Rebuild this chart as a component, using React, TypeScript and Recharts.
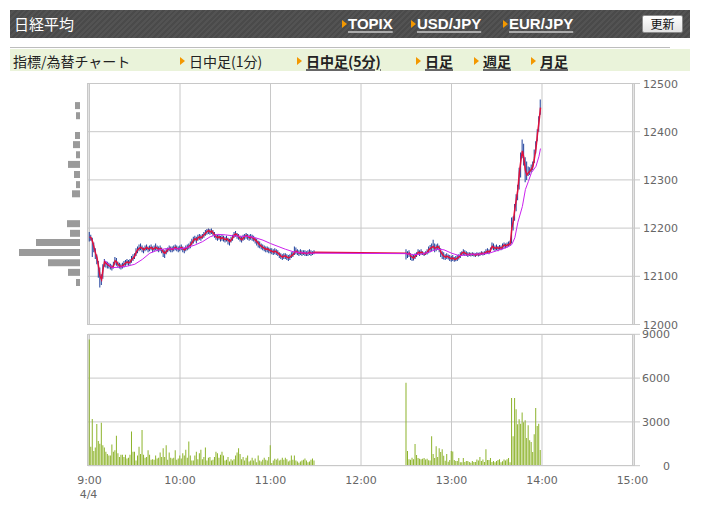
import React from 'react';
import { ComposedChart, BarChart, Bar, Line, XAxis, YAxis, CartesianGrid } from 'recharts';

// ---------- data ----------
const MORNING_START = 0; // minutes after 9:00
const AFTERNOON_START = 210; // 12:30

const morningClose = [
  12182, 12180, 12172, 12160, 12148, 12138, 12120, 12100, 12093, 12115,
  12130, 12127, 12124, 12122, 12120, 12118, 12122, 12132, 12130, 12124,
  12122, 12120, 12122, 12125, 12128, 12130, 12128, 12130, 12135, 12138,
  12142, 12150, 12155, 12158, 12160, 12158, 12155, 12158, 12160, 12157,
  12158, 12160, 12156, 12158, 12160, 12158, 12156, 12158, 12155, 12150,
  12148, 12152, 12155, 12158, 12157, 12156, 12158, 12160, 12158, 12157,
  12158, 12160, 12157, 12155, 12158, 12160, 12162, 12165, 12170, 12175,
  12178, 12175, 12180, 12182, 12180, 12183, 12186, 12190, 12193, 12195,
  12192, 12194, 12190, 12186, 12182, 12180, 12182, 12178, 12180, 12178,
  12176, 12178, 12175, 12172, 12176, 12180, 12186, 12188, 12185, 12182,
  12178, 12176, 12180, 12182, 12185, 12183, 12180, 12182, 12180, 12178,
  12175, 12172, 12168, 12165, 12162, 12160, 12158, 12156, 12157, 12155,
  12153, 12152, 12150, 12152, 12150, 12148, 12145, 12142, 12140, 12142,
  12142, 12140, 12138, 12140, 12143, 12145, 12150, 12152, 12150, 12148,
  12150, 12148, 12149, 12148, 12147, 12148, 12150, 12148, 12148, 12150,
];
const morningHigh = [
  12192, 12186, 12180, 12170, 12158, 12145, 12132, 12118, 12104, 12125,
  12136, 12132, 12130, 12128, 12126, 12124, 12130, 12140, 12138, 12130,
  12128, 12126, 12128, 12132, 12134, 12136, 12134, 12136, 12142, 12146,
  12148, 12158, 12162, 12166, 12168, 12164, 12160, 12164, 12166, 12162,
  12164, 12166, 12162, 12164, 12168, 12164, 12162, 12164, 12160, 12156,
  12154, 12158, 12160, 12164, 12162, 12162, 12164, 12166, 12164, 12162,
  12164, 12166, 12162, 12160, 12164, 12166, 12168, 12172, 12178, 12182,
  12184, 12182, 12186, 12188, 12186, 12188, 12192, 12196, 12198, 12199,
  12198, 12199, 12196, 12192, 12188, 12186, 12188, 12184, 12186, 12184,
  12182, 12184, 12180, 12178, 12182, 12186, 12192, 12194, 12190, 12188,
  12184, 12182, 12186, 12188, 12190, 12188, 12186, 12188, 12186, 12184,
  12180, 12178, 12174, 12172, 12168, 12166, 12164, 12162, 12162, 12160,
  12158, 12158, 12156, 12158, 12156, 12154, 12150, 12148, 12146, 12148,
  12148, 12146, 12144, 12146, 12150, 12152, 12162, 12160, 12156, 12154,
  12156, 12154, 12154, 12154, 12152, 12154, 12156, 12154, 12152, 12154,
];
const morningLow = [
  12172, 12174, 12140, 12150, 12136, 12125, 12097, 12077, 12082, 12095,
  12120, 12118, 12116, 12116, 12114, 12112, 12116, 12124, 12122, 12118,
  12116, 12114, 12116, 12118, 12122, 12124, 12122, 12124, 12128, 12132,
  12136, 12142, 12148, 12152, 12154, 12150, 12148, 12152, 12154, 12150,
  12152, 12154, 12150, 12152, 12154, 12152, 12150, 12152, 12148, 12140,
  12138, 12146, 12150, 12152, 12150, 12150, 12152, 12154, 12152, 12150,
  12152, 12154, 12150, 12148, 12152, 12154, 12156, 12158, 12164, 12168,
  12172, 12168, 12174, 12176, 12174, 12178, 12180, 12184, 12186, 12188,
  12186, 12188, 12184, 12180, 12176, 12174, 12176, 12172, 12174, 12172,
  12170, 12172, 12166, 12164, 12170, 12174, 12180, 12182, 12178, 12176,
  12172, 12170, 12174, 12176, 12178, 12176, 12174, 12176, 12174, 12172,
  12168, 12164, 12160, 12158, 12156, 12154, 12152, 12150, 12150, 12148,
  12148, 12146, 12144, 12146, 12144, 12142, 12138, 12136, 12134, 12136,
  12136, 12134, 12132, 12134, 12138, 12140, 12144, 12146, 12144, 12142,
  12144, 12142, 12144, 12142, 12142, 12142, 12144, 12142, 12144, 12146,
];
const afternoonClose = [
  12148, 12146, 12148, 12142, 12140, 12138, 12142, 12145, 12150, 12148,
  12150, 12148, 12146, 12148, 12150, 12155, 12158, 12160, 12162, 12158,
  12160, 12162, 12158, 12150, 12145, 12142, 12140, 12142, 12140, 12138,
  12136, 12138, 12135, 12136, 12138, 12140, 12144, 12148, 12150, 12148,
  12146, 12145, 12146, 12145, 12146, 12145, 12144, 12146, 12145, 12146,
  12148, 12147, 12148, 12150, 12152, 12150, 12155, 12162, 12160, 12158,
  12160, 12158, 12160, 12158, 12162, 12165, 12163, 12165, 12166, 12168,
  12200, 12215, 12240, 12260, 12280, 12315, 12340, 12360, 12345, 12320,
  12310, 12315, 12318, 12322, 12328, 12345, 12365, 12395, 12420, 12450,
];
const afternoonHigh = [
  12156, 12152, 12154, 12148, 12146, 12144, 12148, 12150, 12156, 12154,
  12156, 12152, 12150, 12152, 12156, 12162, 12165, 12168, 12176, 12168,
  12166, 12168, 12164, 12158, 12152, 12150, 12146, 12148, 12145, 12144,
  12142, 12144, 12140, 12142, 12144, 12146, 12150, 12152, 12156, 12154,
  12152, 12150, 12150, 12149, 12150, 12149, 12148, 12150, 12149, 12150,
  12152, 12151, 12152, 12156, 12158, 12156, 12160, 12170, 12168, 12164,
  12166, 12163, 12165, 12164, 12168, 12170, 12168, 12170, 12172, 12174,
  12222, 12224, 12250, 12270, 12290, 12325, 12357, 12384, 12375, 12347,
  12338, 12328, 12326, 12332, 12338, 12363, 12380, 12405, 12432, 12467,
];
const afternoonLow = [
  12135, 12138, 12140, 12134, 12132, 12133, 12136, 12140, 12144, 12142,
  12145, 12144, 12142, 12144, 12145, 12148, 12150, 12152, 12155, 12150,
  12152, 12155, 12150, 12140, 12136, 12135, 12134, 12136, 12135, 12132,
  12130, 12132, 12130, 12131, 12132, 12135, 12138, 12142, 12144, 12142,
  12142, 12140, 12142, 12141, 12142, 12141, 12140, 12142, 12141, 12142,
  12144, 12143, 12144, 12146, 12147, 12146, 12150, 12156, 12154, 12152,
  12154, 12152, 12155, 12154, 12156, 12158, 12158, 12160, 12162, 12163,
  12168, 12195, 12215, 12235, 12258, 12280, 12305, 12345, 12330, 12295,
  12300, 12308, 12310, 12315, 12320, 12335, 12355, 12380, 12400, 12435,
];

const morningVolume = [
  8650, 1300, 3200, 1000, 1250, 2850, 1700, 1500, 2950, 1400,
  1250, 950, 800, 700, 700, 1450, 950, 1050, 2050, 850,
  600, 750, 750, 600, 750, 500, 550, 750, 2350, 950,
  950, 350, 700, 1300, 800, 2450, 750, 550, 600, 1050,
  750, 400, 450, 400, 700, 500, 550, 900, 600, 1200,
  600, 1400, 400, 900, 550, 500, 550, 1050, 400, 500,
  700, 500, 850, 700, 1100, 550, 1650, 700, 350, 350,
  700, 950, 450, 850, 1100, 450, 600, 1250, 350, 550,
  600, 350, 400, 600, 950, 850, 550, 750, 950, 700,
  350, 400, 600, 280, 450, 350, 450, 700, 900, 1200,
  800, 450, 600, 350, 550, 700, 280, 350, 550, 350,
  500, 230, 700, 350, 280, 400, 550, 400, 350, 600,
  1400, 180, 350, 480, 400, 500, 350, 400, 550, 400,
  550, 450, 280, 350, 700, 400, 700, 350, 280, 200,
  280, 350, 400, 500, 350, 230, 280, 400, 500, 350,
];
const afternoonVolume = [
  5680, 1000, 450, 400, 550, 450, 1480, 730, 520, 480,
  450, 480, 520, 430, 480, 380, 350, 2020, 800, 520,
  1340, 590, 1200, 930, 1130, 680, 340, 800, 270, 390,
  1000, 980, 390, 320, 320, 520, 230, 230, 520, 250,
  320, 320, 250, 200, 320, 250, 250, 430, 360, 590,
  320, 430, 250, 1130, 390, 390, 520, 250, 320, 230,
  320, 390, 450, 230, 300, 420, 350, 450, 520, 230,
  4630, 2020, 4630, 3860, 2840, 3180, 2880, 3650, 2970, 3110,
  1900, 2770, 1750, 1630, 930, 2160, 3950, 2720, 2880, 1070,
];

const maMinutes = [
  10, 15, 20, 25, 30, 35, 40, 45, 50, 55, 60, 65, 70, 75, 80, 85, 90, 95, 100, 105,
  110, 115, 120, 125, 130, 135, 140, 145, 149,
  210, 215, 220, 225, 230, 235, 240, 245, 250, 255, 260, 265, 270, 275, 278, 280,
  282, 284, 287, 289, 291, 293, 296, 298, 299,
];
const maValues = [
  12133, 12118, 12119, 12121, 12125, 12135, 12148, 12154, 12157, 12157,
  12157, 12160, 12165, 12172, 12182, 12187, 12186, 12184, 12183, 12183,
  12180, 12175, 12168, 12162, 12156, 12151, 12149, 12148, 12148,
  12147, 12145, 12146, 12150, 12156, 12155, 12148, 12143, 12144, 12146,
  12146, 12148, 12153, 12158, 12162, 12166, 12180, 12212, 12245, 12280,
  12297, 12315, 12328, 12349, 12365,
];

const profilePrices = [12087, 12108, 12128, 12149, 12170, 12189, 12209, 12271, 12290, 12311, 12332, 12352, 12373, 12392, 12433, 12454];
const profileVolumes = [4, 12, 32, 61, 44, 10, 13, 8, 4, 6, 12, 4, 7, 5, 4, 5];

const priceTicks = [12000, 12100, 12200, 12300, 12400, 12500];
const volumeTicks = [0, 3000, 6000, 9000];
const timeTicks = [0, 60, 120, 180, 240, 300, 360];
const timeLabels = ['9:00', '10:00', '11:00', '12:00', '13:00', '14:00', '15:00'];
const dateLabel = '4/4';

// ---------- table ----------
type Row = { t: number; range?: [number, number]; close?: number; ma?: number; vol?: number };
const rowMap = new Map<number, Row>();
const getRow = (t: number): Row => {
  let r = rowMap.get(t);
  if (!r) {
    r = { t };
    rowMap.set(t, r);
  }
  return r;
};
morningClose.forEach((c, i) => {
  const r = getRow(MORNING_START + i);
  r.close = c;
  r.range = [morningLow[i], morningHigh[i]];
  r.vol = morningVolume[i];
});
afternoonClose.forEach((c, i) => {
  const r = getRow(AFTERNOON_START + i);
  r.close = c;
  r.range = [afternoonLow[i], afternoonHigh[i]];
  r.vol = afternoonVolume[i];
});
maMinutes.forEach((t, i) => {
  getRow(t).ma = maValues[i];
});
const table = Array.from(rowMap.values()).sort((a, b) => a.t - b.t);
const profile = profilePrices.map((p, i) => ({ price: p, vol: profileVolumes[i] }));

// ---------- styling ----------
const AXIS_FONT = '"DejaVu Sans", Verdana, sans-serif';
const JP_FONT = '"Noto Sans CJK JP", "Noto Sans", sans-serif';
const GRID = '#c8c8c8';

const PriceTick = (props: any) => (
  <text x={643} y={props.y + 4} fill="#666" fontSize={11} fontFamily={AXIS_FONT} textAnchor="start">
    {props.payload.value}
  </text>
);
const VolTick = (props: any) => (
  <text x={670} y={props.y + 4} fill="#666" fontSize={11} fontFamily={AXIS_FONT} textAnchor="end">
    {props.payload.value}
  </text>
);
const TimeTick = (props: any) => {
  const idx = timeTicks.indexOf(props.payload.value);
  return (
    <g>
      <text x={props.x} y={164} fill="#666" fontSize={11} fontFamily={AXIS_FONT} textAnchor="middle">
        {timeLabels[idx]}
      </text>
      {idx === 0 && (
        <text x={props.x - 1} y={178} fill="#666" fontSize={11} fontFamily={AXIS_FONT} textAnchor="middle">
          {dateLabel}
        </text>
      )}
    </g>
  );
};

const Tri = ({ left, top }: { left: number; top: number }) => (
  <div
    style={{
      position: 'absolute',
      left,
      top,
      width: 0,
      height: 0,
      borderTop: '4px solid transparent',
      borderBottom: '4px solid transparent',
      borderLeft: '5px solid #f39800',
    }}
  />
);

const headLink: React.CSSProperties = {
  position: 'absolute',
  top: 15,
  color: '#fff',
  fontFamily: '"Liberation Sans", Arial, sans-serif',
  fontWeight: 'bold',
  fontSize: 15,
  lineHeight: '18px',
  textDecoration: 'underline',
  textDecorationColor: '#aaa',
  textDecorationThickness: 2,
  textUnderlineOffset: 2,
  whiteSpace: 'nowrap',
};
const subLink: React.CSSProperties = {
  position: 'absolute',
  top: 52,
  color: '#222',
  fontFamily: JP_FONT,
  fontSize: 14,
  lineHeight: '18px',
  whiteSpace: 'nowrap',
};
const subLinkActive: React.CSSProperties = {
  ...subLink,
  fontWeight: 'bold',
  textDecoration: 'underline',
  textDecorationColor: '#666',
  textDecorationThickness: 2,
  textUnderlineOffset: 2,
};

export default function App() {
  return (
    <div style={{ position: 'absolute', left: 0, top: 0, width: 701, height: 514, background: '#fff', overflow: 'hidden' }}>
      {/* header bar */}
      <div
        style={{
          position: 'absolute',
          left: 10,
          top: 10,
          width: 680,
          height: 28,
          background: 'repeating-linear-gradient(135deg, #4a4a4a 0px, #4a4a4a 2px, #535353 2px, #535353 4px)',
        }}
      />
      <div style={{ position: 'absolute', left: 14, top: 14, color: '#fff', fontFamily: JP_FONT, fontSize: 15, lineHeight: '20px' }}>
        日経平均
      </div>
      <Tri left={342} top={20} />
      <div style={{ ...headLink, left: 348 }}>TOPIX</div>
      <Tri left={411} top={20} />
      <div style={{ ...headLink, left: 417 }}>USD/JPY</div>
      <Tri left={503} top={20} />
      <div style={{ ...headLink, left: 509 }}>EUR/JPY</div>
      <div
        style={{
          position: 'absolute',
          left: 642,
          top: 15,
          width: 41,
          height: 18,
          boxSizing: 'border-box',
          border: '1px solid #8a8a8a',
          borderRadius: 2,
          background: 'linear-gradient(#ffffff, #e2e2e2)',
          color: '#111',
          fontFamily: JP_FONT,
          fontSize: 12,
          lineHeight: '16px',
          textAlign: 'center',
        }}
      >
        更新
      </div>

      {/* sub bar */}
      <div style={{ position: 'absolute', left: 10, top: 47, width: 660, height: 1, background: '#bdbdbd' }} />
      <div style={{ position: 'absolute', left: 10, top: 49, width: 680, height: 22, background: '#eaf3da' }} />
      <div style={{ ...subLink, left: 13 }}>指標/為替チャート</div>
      <Tri left={180} top={57} />
      <div style={{ ...subLink, left: 189 }}>日中足(1分)</div>
      <Tri left={297} top={57} />
      <div style={{ ...subLinkActive, left: 306 }}>日中足(5分)</div>
      <Tri left={416} top={57} />
      <div style={{ ...subLinkActive, left: 425 }}>日足</div>
      <Tri left={474} top={57} />
      <div style={{ ...subLinkActive, left: 483 }}>週足</div>
      <Tri left={531} top={57} />
      <div style={{ ...subLinkActive, left: 540 }}>月足</div>

      {/* price chart */}
      <div style={{ position: 'absolute', left: 0, top: 0 }}>
        <ComposedChart width={701} height={340} data={table} margin={{ top: 83.5, right: 0, bottom: 15.5, left: 88 }}>
          <CartesianGrid stroke={GRID} />
          <XAxis dataKey="t" type="number" domain={[-1, 361]} ticks={timeTicks} hide />
          <YAxis
            orientation="right"
            type="number"
            domain={[12000, 12500]}
            ticks={priceTicks}
            interval={0}
            width={67}
            axisLine={false}
            tickLine={{ stroke: GRID }}
            tickSize={6}
            tick={<PriceTick />}
          />
          <Bar dataKey="range" fill="#1d3f9b" barSize={1} isAnimationActive={false} />
          <Line dataKey="close" type="linear" stroke="#e0103c" strokeWidth={1.5} dot={false} isAnimationActive={false} />
          <Line dataKey="ma" type="linear" stroke="#cc22ee" strokeWidth={1} dot={false} connectNulls isAnimationActive={false} />
        </ComposedChart>
      </div>
      <div
        style={{
          position: 'absolute',
          left: 87,
          top: 83,
          width: 548,
          height: 242,
          boxSizing: 'border-box',
          border: `1px solid ${GRID}`,
          pointerEvents: 'none',
        }}
      />

      {/* price-volume profile */}
      <div style={{ position: 'absolute', left: 0, top: 0 }}>
        <BarChart width={88} height={330} data={profile} layout="vertical" margin={{ top: 83.5, right: 8, bottom: 5.5, left: 0 }}>
          <XAxis type="number" domain={[0, 80]} reversed hide />
          <YAxis type="number" dataKey="price" domain={[12000, 12500]} reversed hide />
          <Bar dataKey="vol" fill="#9a9a9a" barSize={7} isAnimationActive={false} />
        </BarChart>
      </div>

      {/* volume chart */}
      <div style={{ position: 'absolute', left: 0, top: 320 }}>
        <ComposedChart width={701} height={194} data={table} margin={{ top: 14.3, right: 0, bottom: 0, left: 88 }}>
          <CartesianGrid stroke={GRID} />
          <XAxis
            dataKey="t"
            type="number"
            domain={[-1, 361]}
            ticks={timeTicks}
            interval={0}
            height={48.3}
            axisLine={false}
            tickLine={false}
            tick={<TimeTick />}
          />
          <YAxis
            orientation="right"
            type="number"
            domain={[0, 9000]}
            ticks={volumeTicks}
            interval={0}
            width={67}
            axisLine={false}
            tickLine={{ stroke: GRID }}
            tickSize={6}
            tick={<VolTick />}
          />
          <Bar dataKey="vol" fill="#8db32b" barSize={1} isAnimationActive={false} />
        </ComposedChart>
      </div>
      <div
        style={{
          position: 'absolute',
          left: 87,
          top: 334,
          width: 548,
          height: 132,
          boxSizing: 'border-box',
          border: `1px solid ${GRID}`,
          pointerEvents: 'none',
        }}
      />
    </div>
  );
}
